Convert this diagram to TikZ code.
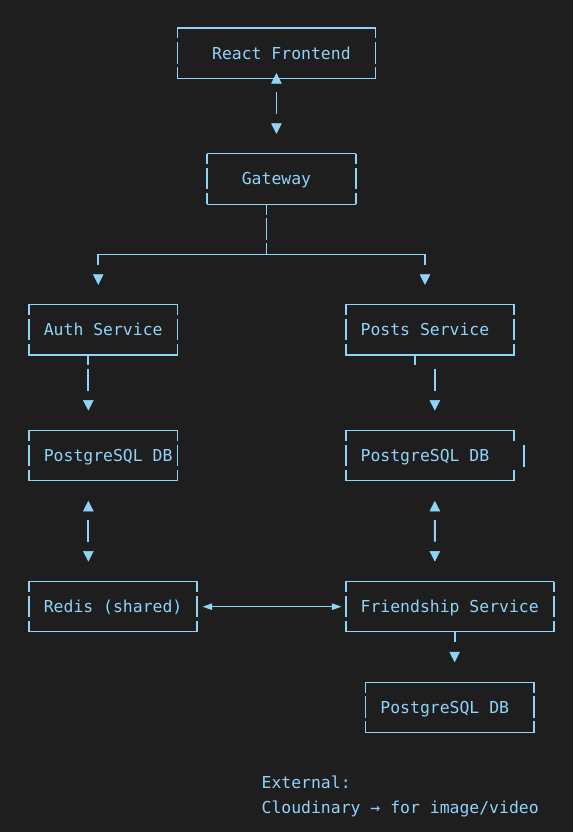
\documentclass[tikz,border=0pt]{standalone}
\usepackage{fontspec}
\usetikzlibrary{arrows.meta}
\newfontfamily\termfont{DejaVu Sans Mono}
\definecolor{bg}{HTML}{1E1E1E}
\definecolor{ink}{HTML}{8FD3F8}

\begin{document}
\begin{tikzpicture}[x=9.9pt, y=-25.16pt,
  txt/.style={text=ink, inner sep=0pt, outer sep=0pt, text height=12pt, text depth=0pt,
    font=\termfont\fontsize{16.44}{20}\selectfont},
  box/.style={txt, minimum width=#1*9.9pt, minimum height=50.32pt},
  hline/.style={draw=ink, line width=1.2pt, line cap=rect},
  vline/.style={draw=ink, line width=1.8pt},
  side/.style={vline, dash pattern=on 10.4pt off 3.76pt on 21.5pt off 3.66pt on 11pt off 20pt},
  >={Triangle[length=10.5pt,width=10.5pt,line width=0.5pt]}]

  \path[use as bounding box, fill=bg] (-0.924,-1.113) rectangle (56.955,31.955);

  \node[box=20] (react) at (27,1) {\phantom{x}React Frontend};
  \node[box=15] (gw) at (27.5,6) {Gateway\phantom{x}};
  \node[box=15] (auth) at (9.5,12) {Auth Service};
  \node[box=17] (posts) at (42.5,12) {Posts Service\phantom{x}};
  \node[box=15] (authdb) at (9.5,17) {\phantom{x}PostgreSQL DB};
  \node[box=17] (postsdb) at (42.5,17) {PostgreSQL DB\phantom{x}};
  \node[box=17] (redis) at (10.5,23) {Redis (shared)};
  \node[box=21] (friend) at (44.5,23) {Friendship Service};
  \node[box=17] (frienddb) at (44.5,27) {PostgreSQL DB\phantom{x}};

  \node[txt, anchor=west] (ext) at (25.5,30) {External:};
  \node[txt, anchor=west] (cloud) at (25.5,31) {Cloudinary → for image/video};

  % box borders
  \foreach \b in {react,gw,auth,posts,authdb,postsdb,redis,friend,frienddb} {
    \draw[hline] (\b.north west) -- (\b.north east);
    \draw[hline] (\b.south west) -- (\b.south east);
    \draw[side] (\b.north west) -- (\b.south west);
  }
  \foreach \b in {react,gw,auth,posts,authdb,redis,friend,frienddb}
    \draw[side] (\b.north east) -- (\b.south east);
  \draw[vline] (postsdb.north east) -- ++(0,-10.4pt);
  \draw[vline] (postsdb.south east) -- ++(0,11pt);
  \draw[vline] ([xshift=9.9pt,yshift=10.8pt]postsdb.east) -- ([xshift=9.9pt,yshift=-10.9pt]postsdb.east);

  % connectors
  \draw[vline, <->, shorten <=-5.25pt, shorten >=19.91pt,
    dash pattern=on 0pt off 8.91pt on 21.5pt off 200pt]
    (react.south) -- ([xshift=-4.95pt]gw.north);

  \draw[vline, line width=1.7pt, ->, shorten >=19.91pt,
    dash pattern=on 10.4pt off 3.76pt on 21.5pt off 3.66pt on 189.7pt off 300pt]
    ([xshift=-14.85pt]gw.south) -- ++(0,2) -| ([xshift=-4.95pt]auth.north);
  \draw[vline, line width=1.7pt, ->, shorten >=19.91pt,
    dash pattern=on 10.4pt off 3.76pt on 21.5pt off 3.66pt on 179.8pt off 300pt]
    ([xshift=-14.85pt]gw.south) -- ++(0,2) -| ([xshift=-4.95pt]posts.north);

  \draw[vline, ->, shorten >=19.91pt, dash pattern=on 10.4pt off 3.76pt on 21.5pt off 200pt]
    ([xshift=-14.85pt]auth.south) -- ([xshift=-14.85pt]authdb.north);

  \draw[vline] ([xshift=-14.85pt]posts.south) -- ++(0,-10.4pt);
  \draw[vline, ->, shorten >=19.91pt, dash pattern=on 0pt off 14.16pt on 21.5pt off 200pt]
    ([xshift=4.95pt]posts.south) -- ([xshift=4.95pt]postsdb.north);

  \draw[vline, <->, shorten <=19.91pt, shorten >=19.91pt,
    dash pattern=on 0pt off 8.91pt on 21.5pt off 200pt]
    ([xshift=-14.85pt]authdb.south) -- ([xshift=-24.75pt]redis.north);
  \draw[vline, <->, shorten <=19.91pt, shorten >=19.91pt,
    dash pattern=on 0pt off 8.91pt on 21.5pt off 200pt]
    ([xshift=4.95pt]postsdb.south) -- ([xshift=-14.85pt]friend.north);

  \draw[draw=ink, line width=1pt, shorten <=5.4pt, shorten >=4.3pt,
    {Triangle[length=9.5pt,width=6.5pt]}-{Triangle[length=9.5pt,width=6.5pt]}]
    (redis.east) -- (friend.west);

  \draw[vline, ->, shorten >=19.91pt, dash pattern=on 10.4pt off 200pt]
    ([xshift=4.95pt]friend.south) -- ([xshift=4.95pt]frienddb.north);

\end{tikzpicture}
\end{document}
